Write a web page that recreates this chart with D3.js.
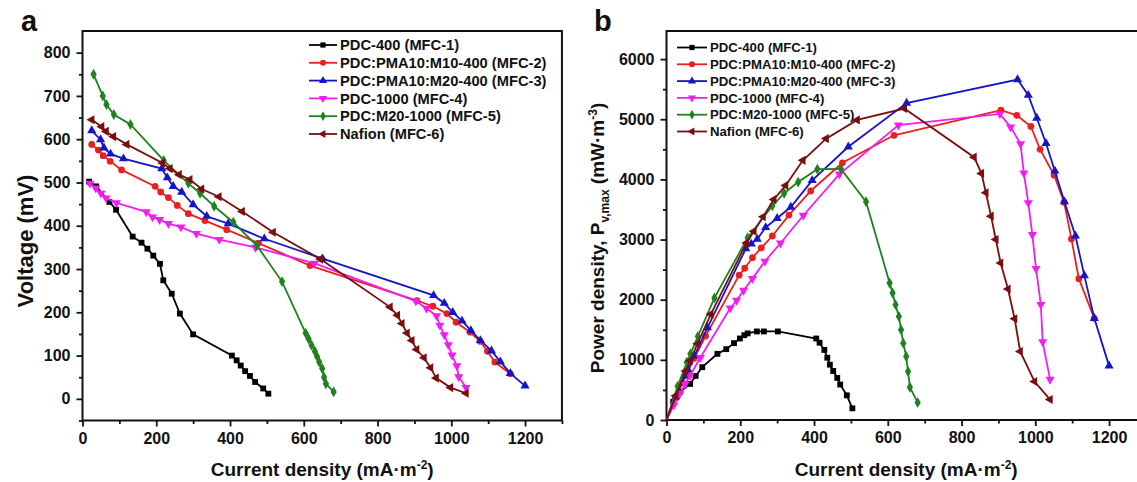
<!DOCTYPE html>
<html>
<head>
<meta charset="utf-8">
<script src="https://cdn.jsdelivr.net/npm/d3@7"></script>
<style>
  body { margin: 0; background: #fff; }
  text { font-family: "Liberation Sans", Arial, sans-serif; font-weight: bold; fill: #111; }
</style>
</head>
<body>
<script>
// series names (legend order)
var seriesNames = ["PDC-400 (MFC-1)", "PDC:PMA10:M10-400 (MFC-2)", "PDC:PMA10:M20-400 (MFC-3)",
                   "PDC-1000 (MFC-4)", "PDC:M20-1000 (MFC-5)", "Nafion (MFC-6)"];

// panel a : [current density mA/m2, voltage mV]
var mfc1V = [[18,502],[37,491],[73,455],[91,437],[136,375],[160,361],[176,347],[192,331],[210,312],[219,274],
             [242,243],[264,197],[300,149],[405,100],[418,89],[429,77],[441,64],[454,53],[468,39],[490,24],[504,12]];
var mfc2V = [[25,588],[43,575],[56,562],[75,549],[106,529],[197,491],[212,478],[233,465],[257,447],[287,428],
             [332,412],[391,391],[477,360],[617,308],[907,227],[950,214],[988,197],[1013,177],[1051,154],
             [1078,133],[1098,110],[1118,85],[1160,58]];
var mfc3V = [[25,620],[49,599],[58,580],[76,566],[111,555],[215,532],[230,511],[246,491],[269,478],[300,449],
             [337,422],[395,405],[493,370],[651,324],[952,239],[981,221],[1004,200],[1029,180],[1053,158],
             [1079,135],[1109,111],[1133,86],[1160,59],[1200,30]];
var mfc4V = [[20,498],[36,487],[50,475],[64,464],[92,453],[173,432],[190,420],[209,414],[233,405],[267,397],
             [309,382],[371,368],[469,350],[629,313],[904,226],[933,209],[960,192],[969,170],[981,148],
             [992,125],[1002,101],[1015,76],[1020,51],[1040,26]];
var mfc5V = [[30,750],[55,700],[65,680],[85,657],[130,634],[220,551],[287,498],[319,475],[357,445],[409,408],
             [473,354],[541,271],[605,152],[613,139],[621,124],[630,110],[636,98],[642,85],[650,70],[655,50],
             [660,35],[681,16]];
var mfc6V = [[25,645],[52,629],[64,618],[84,606],[120,588],[217,545],[237,532],[262,518],[291,507],[323,485],
             [370,467],[433,433],[517,385],[645,323],[834,212],[854,193],[866,174],[880,152],[893,135],
             [906,114],[926,95],[944,72],[959,48],[998,26],[1040,13]];

// panel b : [current density mA/m2, power density mW/m3]
var mfc1P = [[0,0],[18,300],[37,470],[64,600],[79,733],[97,878],[138,1100],[162,1178],[183,1278],[199,1355],
             [211,1410],[220,1440],[245,1472],[264,1472],[302,1472],[406,1355],[415,1285],[428,1165],
             [436,1035],[443,920],[452,815],[463,700],[471,590],[489,410],[504,194]];
var mfc2P = [[0,0],[25,366],[43,616],[56,784],[75,1025],[106,1396],[197,2408],[212,2523],[233,2698],
             [257,2860],[287,3059],[332,3406],[391,3807],[477,4276],[617,4733],[907,5150],[950,5065],
             [988,4880],[1013,4500],[1051,4070],[1078,3620],[1098,3010],[1118,2350],[1160,1690]];
var mfc3P = [[0,0],[25,386],[49,731],[58,838],[76,1071],[111,1534],[215,2848],[230,2927],[246,3008],
             [269,3202],[300,3354],[337,3541],[395,3983],[493,4542],[651,5270],[952,5660],[981,5400],
             [1004,5020],[1029,4600],[1053,4140],[1079,3630],[1109,3060],[1133,2400],[1160,1690],[1200,900]];
var mfc4P = [[0,0],[20,248],[36,437],[50,591],[64,739],[92,1038],[173,1861],[190,1987],[209,2154],
             [233,2350],[267,2639],[309,2939],[371,3400],[469,4087],[629,4902],[904,5090],[933,4870],
             [960,4590],[969,4105],[981,3610],[992,3080],[1002,2515],[1015,1920],[1020,1300],[1040,675]];
var mfc5P = [[0,0],[30,560],[55,960],[65,1100],[85,1390],[130,2030],[220,3030],[287,3560],[319,3770],
             [357,3955],[409,4170],[473,4175],[541,3630],[605,2278],[613,2111],[621,1917],[630,1722],
             [636,1500],[642,1278],[650,1056],[655,806],[660,544],[681,289]];
var mfc6P = [[0,0],[25,402],[52,815],[64,985],[84,1268],[120,1757],[217,2944],[237,3139],[262,3378],
             [291,3667],[323,3900],[370,4317],[433,4678],[517,4989],[645,5178],[834,4370],[854,4100],
             [866,3778],[880,3389],[893,3000],[906,2611],[926,2178],[944,1683],[959,1139],[998,639],[1040,340]];

// tick values
var xTicks = [0, 200, 400, 600, 800, 1000, 1200];
var xMinor = [100, 300, 500, 700, 900, 1100, 1300];
var yTicksA = [0, 100, 200, 300, 400, 500, 600, 700, 800];
var yMinorA = [-50, 50, 150, 250, 350, 450, 550, 650, 750];
var yTicksB = [0, 1000, 2000, 3000, 4000, 5000, 6000];
var yMinorB = [500, 1500, 2500, 3500, 4500, 5500];

var colors = ["#000000", "#e8201e", "#1414c8", "#f01ef0", "#1e821e", "#7a0e0e"];
var symbols = [d3.symbolSquare, d3.symbolCircle, d3.symbolTriangle, d3.symbolTriangle, d3.symbolDiamond, d3.symbolTriangle];
var rotations = [0, 0, 0, 180, 0, -90];
var sizes = [34, 36, 36, 36, 34, 36];

var svg = d3.select("body").append("svg")
    .attr("width", 1137)
    .attr("height", 482);

function drawPanel(p) {
    var g = svg.append("g");

    var x = d3.scaleLinear().domain([0, 1300]).range([p.left, p.left + 1300 * 0.3688]);
    var y = d3.scaleLinear().domain(p.yDomain).range([p.bottom, p.top]);

    g.append("rect")
        .attr("x", x(0)).attr("y", p.top)
        .attr("width", x(1300) - x(0)).attr("height", p.bottom - p.top)
        .attr("fill", "none").attr("stroke", "#111").attr("stroke-width", 2);

    // axes
    g.append("g").attr("transform", "translate(0," + p.bottom + ")")
        .call(d3.axisBottom(x).tickValues(xTicks).tickSize(6).tickPadding(6).tickFormat(d3.format("d")));
    g.append("g").attr("transform", "translate(0," + p.bottom + ")")
        .call(d3.axisBottom(x).tickValues(xMinor).tickSize(3.5).tickFormat(""));
    g.append("g").attr("transform", "translate(" + x(0) + ",0)")
        .call(d3.axisLeft(y).tickValues(p.yTicks).tickSize(6).tickPadding(6).tickFormat(d3.format("d")));
    g.append("g").attr("transform", "translate(" + x(0) + ",0)")
        .call(d3.axisLeft(y).tickValues(p.yMinor).tickSize(3.5).tickFormat(""));
    g.selectAll(".domain").remove();
    g.selectAll(".tick line").attr("stroke", "#111").attr("stroke-width", 1.8);
    g.selectAll(".tick text").style("font-size", "16px").style("font-family", "Liberation Sans, Arial").style("font-weight", "bold").attr("fill", "#111");

    var line = d3.line().x(function(d) { return x(d[0]); }).y(function(d) { return y(d[1]); });

    p.series.forEach(function(s, i) {
        g.append("path")
            .datum(s)
            .attr("d", line)
            .attr("fill", "none")
            .attr("stroke", colors[i])
            .attr("stroke-width", 1.8);

        g.selectAll(".m" + i)
            .data(s.filter(function(d) { return !(d[0] === 0 && d[1] === 0); }))
            .enter().append("path")
            .attr("class", "m" + i)
            .attr("d", d3.symbol().type(symbols[i]).size(sizes[i]))
            .attr("transform", function(d) { return "translate(" + x(d[0]) + "," + y(d[1]) + ") rotate(" + rotations[i] + ")"; })
            .attr("fill", colors[i]);
    });

    // legend
    seriesNames.forEach(function(name, i) {
        var ly = p.legendY + i * p.legendStep;
        g.append("line")
            .attr("x1", p.legendX).attr("x2", p.legendX + p.legendLen)
            .attr("y1", ly).attr("y2", ly)
            .attr("stroke", colors[i]).attr("stroke-width", 1.8);
        g.append("path")
            .attr("d", d3.symbol().type(symbols[i]).size(sizes[i] * 0.8))
            .attr("transform", "translate(" + (p.legendX + p.legendLen / 2) + "," + ly + ") rotate(" + rotations[i] + ")")
            .attr("fill", colors[i]);
        g.append("text")
            .attr("x", p.legendX + p.legendLen + 3)
            .attr("y", ly)
            .attr("dy", "0.36em")
            .style("font-size", p.legendFont)
            .text(name);
    });

    // panel letter
    g.append("text")
        .attr("x", p.letterX).attr("y", 31)
        .style("font-size", "29px")
        .text(p.letter);

    // x title
    var xt = g.append("text")
        .attr("x", x(650)).attr("y", 476)
        .attr("text-anchor", "middle")
        .style("font-size", "19px");
    xt.append("tspan").text("Current density (mA\u00b7m");
    xt.append("tspan").attr("dy", -7).style("font-size", "12px").text("-2");
    xt.append("tspan").attr("dy", 7).text(")");

    // y title
    var yt = g.append("text")
        .attr("transform", "translate(" + p.yTitleX + "," + p.yTitleY + ") rotate(-90)")
        .attr("text-anchor", "middle")
        .style("font-size", p.yTitleFont);
    p.yTitle(yt);
}

drawPanel({
    left: 82.5, top: 31, bottom: 420.5,
    yDomain: [-50, 850], yTicks: yTicksA, yMinor: yMinorA,
    series: [mfc1V, mfc2V, mfc3V, mfc4V, mfc5V, mfc6V],
    legendX: 309, legendY: 45, legendStep: 17.8, legendLen: 28, legendFont: "14.7px",
    letter: "a", letterX: 21,
    yTitleX: 33, yTitleY: 241, yTitleFont: "22px",
    yTitle: function(t) { t.text("Voltage (mV)"); }
});

drawPanel({
    left: 666.5, top: 31, bottom: 420,
    yDomain: [0, 6467], yTicks: yTicksB, yMinor: yMinorB,
    series: [mfc1P, mfc2P, mfc3P, mfc4P, mfc5P, mfc6P],
    legendX: 677, legendY: 47.5, legendStep: 16.8, legendLen: 30, legendFont: "13.2px",
    letter: "b", letterX: 594,
    yTitleX: 604, yTitleY: 238, yTitleFont: "19px",
    yTitle: function(t) {
        t.append("tspan").text("Power density, P");
        t.append("tspan").attr("dy", 5).style("font-size", "12px").text("v,max");
        t.append("tspan").attr("dy", -5).text(" (mW\u00b7m");
        t.append("tspan").attr("dy", -7).style("font-size", "12px").text("-3");
        t.append("tspan").attr("dy", 7).text(")");
    }
});
</script>
</body>
</html>
